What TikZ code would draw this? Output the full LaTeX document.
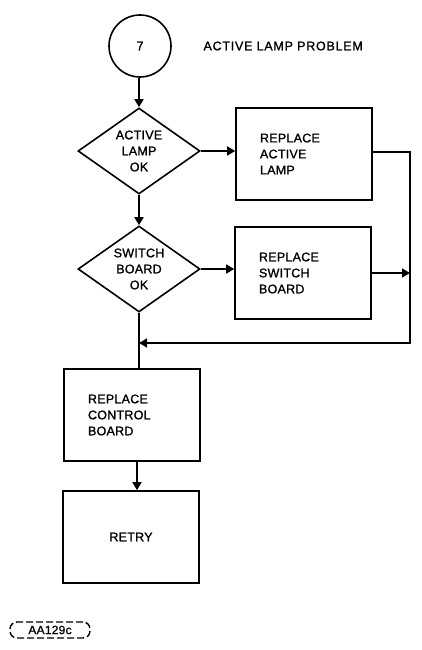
\documentclass[tikz,border=0pt]{standalone}
\usepackage{fontspec}
\setmainfont{Liberation Sans}[LetterSpace=2,FakeBold=1.2]
\newfontfamily\titlefont{Liberation Sans}[LetterSpace=6,FakeBold=1.2]
\usetikzlibrary{shapes.geometric,arrows.meta}
\begin{document}
\begin{tikzpicture}[x=1pt,y=-1pt,
  every node/.style={font=\fontsize{12.5}{16}\selectfont},
  ln/.style={line width=1.6pt},
  arr/.style={ln,-{Triangle[width=9pt,length=8pt]}},
  boxl/.style={draw,line width=1.6pt,minimum width=136pt,minimum height=92pt,inner xsep=24pt,text width=88pt,align=left},
  dec/.style={draw,line width=1.6pt,diamond,aspect=1.39,minimum width=122pt,minimum height=86pt,inner sep=0pt,align=center}]
\useasboundingbox (0,0) rectangle (421,650);
\node[draw,circle,line width=1.6pt,minimum size=62pt,inner sep=0pt] (c7) at (140,46) {7};
\node[anchor=west,font=\titlefont\fontsize{12.5}{16}\selectfont] (title) at (200,46) {ACTIVE LAMP PROBLEM};
\node[dec] (d1) at (139,151) {ACTIVE\\LAMP\\OK};
\node[dec] (d2) at (139,269) {SWITCH\\BOARD\\OK};
\node[boxl] (b1) at (304,154) {REPLACE\\ACTIVE\\LAMP};
\node[boxl] (b2) at (303,273) {REPLACE\\SWITCH\\BOARD};
\node[boxl] (cb) at (132,415) {REPLACE\\CONTROL\\BOARD};
\node[draw,line width=1.6pt,minimum width=136pt,minimum height=92pt] (rt) at (131,537) {RETRY};
\coordinate (cr) at (410,343);
\coordinate (m) at (139,343);
\draw[arr] (d1.north |- c7.south) -- (d1.north);
\draw[arr] (d1.south) -- (d2.north);
\draw[arr] (d1.east) -- (d1.east -| b1.west);
\draw[arr] (d2.east) -- (d2.east -| b2.west);
\draw[arr] (b1.east |- 0,152) -| (cr) -- (m);
\draw[arr] (b2.east) -- (b2.east -| cr);
\draw[ln] (d2.south) -- (d2.south |- cb.north);
\draw[arr] (cb.south -| 137,0) -- (rt.north -| 137,0);
\node[draw,line width=1.4pt,dash pattern=on 7pt off 3pt,rounded corners=7pt,minimum width=80pt,minimum height=16pt,inner sep=1pt,font=\fontsize{12}{14}\selectfont] (lbl) at (50,630) {AA129c};
\end{tikzpicture}
\end{document}
